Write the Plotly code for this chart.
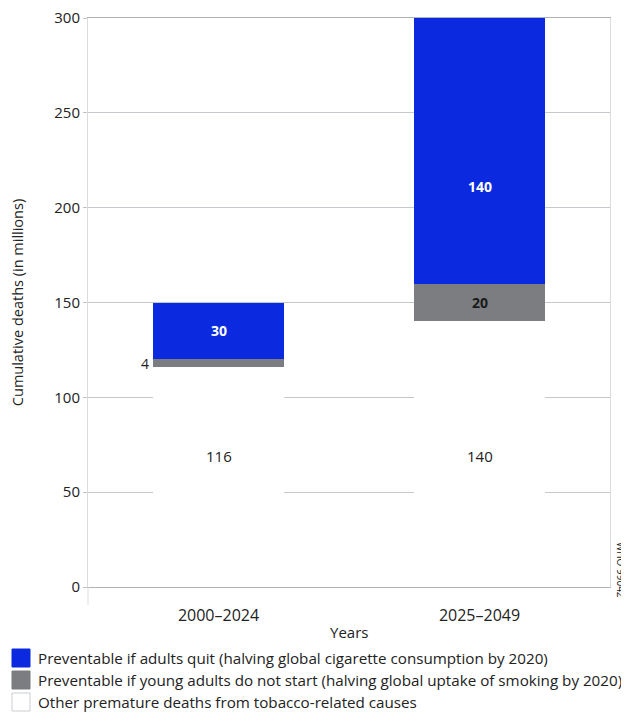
import plotly.graph_objects as go

categories = ["2000–2024", "2025–2049"]
other_deaths = [116, 140]
young_start = [4, 20]
adults_quit = [30, 140]

legend_names = [
    "Preventable if adults quit (halving global cigarette consumption by 2020)",
    "Preventable if young adults do not start (halving global uptake of smoking by 2020)",
    "Other premature deaths from tobacco-related causes",
]
y_ticks = [0, 50, 100, 150, 200, 250, 300]

BLUE = "#0b2ae0"
GRAY = "#7b7d80"
WHITE = "#ffffff"
FONT = "Open Sans"
TXT = "#222222"
GRID = "#c5c9ce"

# figure geometry (page body adds an 8px offset)
W, H = 621, 715
ML, MR, MT, MB = 80, 19, 10, 136
PW, PH = W - ML - MR, H - MT - MB


def px_x(dx):
    """horizontal pixel offset from plot's left edge -> paper x"""
    return dx / PW


def px_y(dy):
    """vertical pixel offset below plot's bottom edge -> paper y"""
    return -dy / PH


fig = go.Figure()
fig.add_trace(go.Bar(x=categories, y=other_deaths, marker=dict(color=WHITE, line=dict(width=0)),
                     showlegend=False, hoverinfo="skip"))
fig.add_trace(go.Bar(x=categories, y=young_start, marker=dict(color=GRAY, line=dict(width=0)),
                     showlegend=False, hoverinfo="skip"))
fig.add_trace(go.Bar(x=categories, y=adults_quit, marker=dict(color=BLUE, line=dict(width=0)),
                     showlegend=False, hoverinfo="skip"))

ann = []
shapes = []
# blue segment labels
blue_label_y = [135, 211]
for c, v, ly in zip(categories, adults_quit, blue_label_y):
    ann.append(dict(x=c, y=ly, text=f"<b>{v}</b>", showarrow=False,
                    font=dict(family=FONT, size=14, color="white")))
# gray segment labels
ann.append(dict(x=categories[1], y=other_deaths[1] + young_start[1] / 2, text=f"<b>{young_start[1]}</b>",
                showarrow=False, font=dict(family=FONT, size=14, color="#1a1a1a")))
ann.append(dict(x=categories[0], y=other_deaths[0] + young_start[0] / 2, text=f"{young_start[0]}",
                showarrow=False, xanchor="right", xshift=-68,
                font=dict(family=FONT, size=14, color=TXT)))
# other deaths labels
other_label_y = 69
for c, v in zip(categories, other_deaths):
    ann.append(dict(x=c, y=other_label_y, text=f"{v}", showarrow=False,
                    font=dict(family=FONT, size=15, color=TXT)))
# WHO code
ann.append(dict(xref="paper", yref="paper", x=1.0, xanchor="center", xshift=11,
                y=px_y(-17), yanchor="middle", text="WHO 99042", textangle=90, showarrow=False,
                font=dict(family=FONT, size=10, color=TXT)))
# x title
ann.append(dict(xref="paper", yref="paper", x=0.5, y=0, yshift=-45, yanchor="middle",
                text="Years", showarrow=False, font=dict(family=FONT, size=15, color=TXT)))

# legend (drawn below the plot)
sw_cols = [BLUE, GRAY, WHITE]
sw_lines = [BLUE, GRAY, "#c9cdd2"]
row_offsets = [71, 93, 115]
for name, col, lc, off in zip(legend_names, sw_cols, sw_lines, row_offsets):
    shapes.append(dict(type="rect", xref="paper", yref="paper",
                       x0=px_x(12 - 88), x1=px_x(30 - 88),
                       y0=px_y(off - 9), y1=px_y(off + 9),
                       fillcolor=col, line=dict(color=lc, width=1)))
    ann.append(dict(xref="paper", yref="paper", x=px_x(36 - 88), xanchor="left",
                    y=px_y(off), yanchor="middle", text=name, showarrow=False,
                    font=dict(family=FONT, size=15.2, color=TXT)))

# small extension of the left axis line below zero
shapes.append(dict(type="line", xref="paper", yref="paper", x0=0, x1=0, y0=0, y1=px_y(18),
                   line=dict(color="#dadde0", width=1)))

fig.update_layout(
    width=W, height=H,
    margin=dict(l=ML, r=MR, t=MT, b=MB, autoexpand=False),
    paper_bgcolor="white", plot_bgcolor="white",
    barmode="stack", bargap=0.5,
    font=dict(family=FONT, size=14, color=TXT),
    annotations=ann,
    shapes=shapes,
    showlegend=False,
    xaxis=dict(showgrid=False, ticks="", ticklabelstandoff=14, automargin=False,
               tickfont=dict(family=FONT, size=16, color=TXT),
               showline=True, mirror=True, linecolor="#b0b4b9", linewidth=1, zeroline=False),
    yaxis=dict(range=[0, 300], tickvals=y_ticks, showgrid=True, gridcolor=GRID, gridwidth=1,
               automargin=False, ticklabeloverflow="allow",
               zeroline=False, showline=True, linecolor="#dadde0", linewidth=1, mirror=True,
               ticks="outside", ticklen=4, tickcolor="#c0c4c8",
               tickfont=dict(family=FONT, size=15, color=TXT),
               title=dict(text="Cumulative deaths (in millions)", standoff=33,
                          font=dict(family=FONT, size=14.5, color=TXT))),
)

fig.write_html("out.html")
